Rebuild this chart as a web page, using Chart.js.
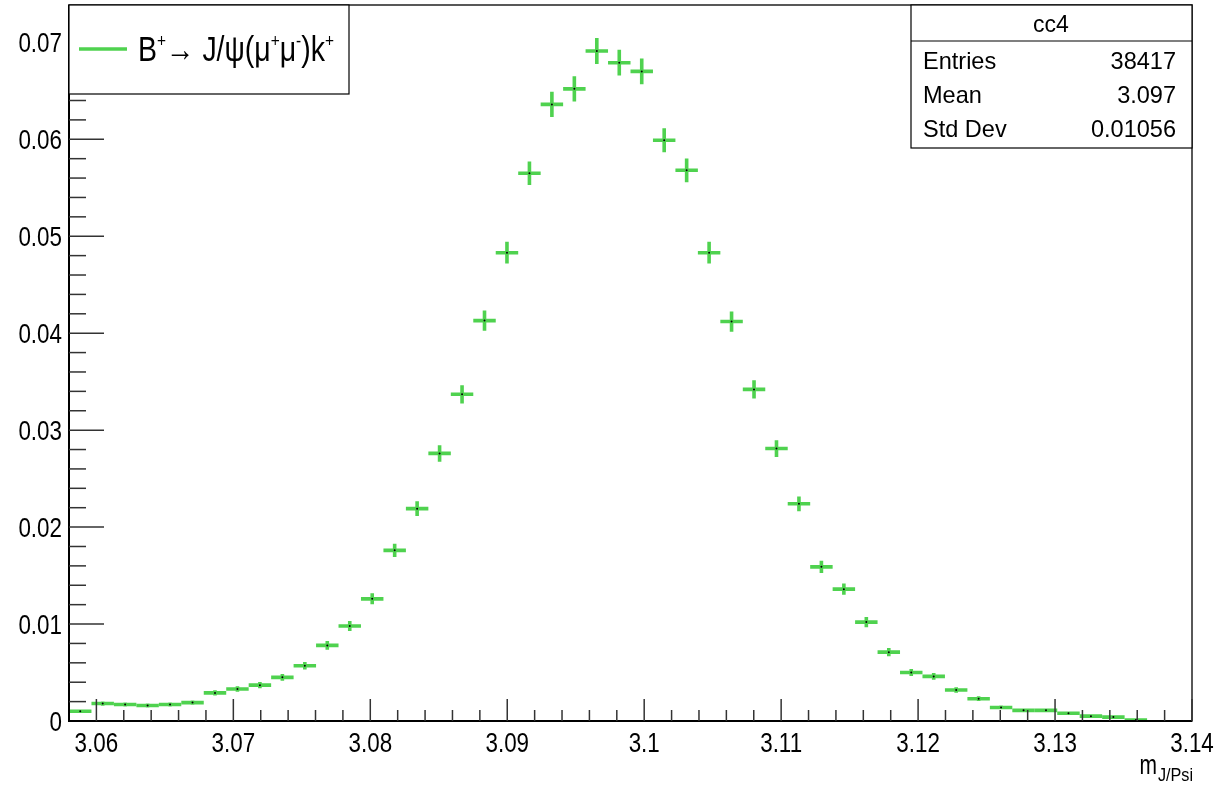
<!DOCTYPE html>
<html>
<head>
<meta charset="utf-8">
<script src="https://cdn.jsdelivr.net/npm/chart.js@4.4.1/dist/chart.umd.min.js"></script>
<style>
html, body { margin: 0; padding: 0; background: #fff; }
#wrap { width: 1230px; height: 786px; }
</style>
</head>
<body>
<div id="wrap"><canvas id="cc4" width="1230" height="786"></canvas></div>
<script>
// histogram cc4: 50 bins from 3.058 to 3.14, only the first 48 are filled
var binCenters = [3.05882, 3.06046, 3.06210, 3.06374, 3.06538, 3.06702, 3.06866, 3.07030,
    3.07194, 3.07358, 3.07522, 3.07686, 3.07850, 3.08014, 3.08178, 3.08342,
    3.08506, 3.08670, 3.08834, 3.08998, 3.09162, 3.09326, 3.09490, 3.09654,
    3.09818, 3.09982, 3.10146, 3.10310, 3.10474, 3.10638, 3.10802, 3.10966,
    3.11130, 3.11294, 3.11458, 3.11622, 3.11786, 3.11950, 3.12114, 3.12278,
    3.12442, 3.12606, 3.12770, 3.12934, 3.13098, 3.13262, 3.13426, 3.13590];
var binContent = [0.0010, 0.0018, 0.0017, 0.0016, 0.0017, 0.0019, 0.0029, 0.0033,
    0.0037, 0.0045, 0.0057, 0.0078, 0.0098, 0.0126, 0.0176, 0.0219,
    0.0276, 0.0337, 0.0413, 0.0483, 0.0565, 0.0636, 0.0652, 0.0691,
    0.0679, 0.0670, 0.0599, 0.0568, 0.0483, 0.0412, 0.0342, 0.0281,
    0.0224, 0.0159, 0.0136, 0.0102, 0.0071, 0.0050, 0.0046, 0.0032,
    0.0023, 0.0014, 0.0011, 0.0011, 0.0008, 0.0005, 0.0004, 0.0001];
var binError = [0.00016, 0.00022, 0.00021, 0.00020, 0.00021, 0.00022, 0.00027, 0.00029,
    0.00031, 0.00034, 0.00039, 0.00045, 0.00051, 0.00057, 0.00068, 0.00076,
    0.00085, 0.00094, 0.00104, 0.00112, 0.00121, 0.00129, 0.00130, 0.00134,
    0.00133, 0.00132, 0.00125, 0.00122, 0.00112, 0.00104, 0.00094, 0.00086,
    0.00076, 0.00064, 0.00059, 0.00052, 0.00043, 0.00036, 0.00035, 0.00029,
    0.00024, 0.00019, 0.00017, 0.00017, 0.00014, 0.00011, 0.00010, 0.00005];
var binWidth = 0.00164;

var xMajor = [3.06, 3.07, 3.08, 3.09, 3.10, 3.11, 3.12, 3.13, 3.14];
var xMajorLabels = ['3.06', '3.07', '3.08', '3.09', '3.1', '3.11', '3.12', '3.13', '3.14'];
var yMajor = [0, 0.01, 0.02, 0.03, 0.04, 0.05, 0.06, 0.07];
var yMajorLabels = ['0', '0.01', '0.02', '0.03', '0.04', '0.05', '0.06', '0.07'];

var statsTitle = 'cc4';
var statsNames = ['Entries', 'Mean', 'Std Dev'];
var statsValues = ['38417', '3.097', '0.01056'];
var axisTitle = 'm';
var axisTitleSub = 'J/Psi';
var legendParts = [
    { t: 'B' }, { t: '+', sup: true },
    { t: '\u2192 J/\u03c8(\u03bc' }, { t: '+', sup: true },
    { t: '\u03bc' }, { t: '-', sup: true },
    { t: ')k' }, { t: '+', sup: true }
];

var GREEN = '#4fd24f';
var FONT = '"Liberation Sans", Arial, Helvetica, sans-serif';

function drawText(ctx, s, x, y, size, align, sx) {
    ctx.save();
    ctx.font = size + 'px ' + FONT;
    ctx.translate(x, y);
    ctx.scale(sx, 1);
    ctx.textAlign = align;
    ctx.textBaseline = 'alphabetic';
    ctx.fillStyle = '#000';
    ctx.fillText(s, 0, 0);
    ctx.restore();
}

var rootStyle = {
    id: 'rootStyle',
    beforeDatasetsDraw: function (chart) {
        var ctx = chart.ctx;
        var xs = chart.scales.x, ys = chart.scales.y;
        ctx.save();
        ctx.strokeStyle = GREEN;
        ctx.lineWidth = 3.6;
        for (var i = 0; i < binCenters.length; i++) {
            var c = binCenters[i], v = binContent[i], e = binError[i];
            var px = xs.getPixelForValue(c);
            var py = ys.getPixelForValue(v);
            ctx.beginPath();
            ctx.moveTo(xs.getPixelForValue(c - binWidth / 2), py);
            ctx.lineTo(xs.getPixelForValue(c + binWidth / 2), py);
            ctx.moveTo(px, ys.getPixelForValue(v + e));
            ctx.lineTo(px, ys.getPixelForValue(Math.max(0, v - e)));
            ctx.stroke();
        }
        ctx.restore();
    },
    afterDraw: function (chart) {
        var ctx = chart.ctx;
        var a = chart.chartArea;
        var xs = chart.scales.x, ys = chart.scales.y;
        ctx.save();

        // frame
        ctx.strokeStyle = '#222';
        ctx.lineWidth = 1.5;
        ctx.strokeRect(a.left, a.top, a.right - a.left, a.bottom - a.top);
        ctx.strokeStyle = '#000';
        ctx.lineWidth = 2;
        ctx.beginPath();
        ctx.moveTo(a.left, a.top);
        ctx.lineTo(a.left, a.bottom);
        ctx.lineTo(a.right, a.bottom);
        ctx.stroke();

        // x ticks, minor every 0.002, drawn inside the frame
        ctx.strokeStyle = '#333';
        ctx.lineWidth = 1.5;
        for (var k = 0; k <= 41; k++) {
            var xv = 3.058 + k * 0.002;
            var px = xs.getPixelForValue(xv);
            if (px < a.left + 1 || px > a.right + 0.5) continue;
            var major = Math.abs(Math.round(xv * 100) - xv * 100) < 1e-6;
            ctx.beginPath();
            ctx.moveTo(px, a.bottom);
            ctx.lineTo(px, a.bottom - (major ? 22 : 11));
            ctx.stroke();
        }
        // y ticks
        for (var j = 0; j <= 36; j++) {
            var yv = j * 0.002;
            var py = ys.getPixelForValue(yv);
            if (py < a.top || j === 0) continue;
            var majorY = j % 5 === 0;
            ctx.beginPath();
            ctx.moveTo(a.left, py);
            ctx.lineTo(a.left + (majorY ? 35 : 17), py);
            ctx.stroke();
        }

        // tick labels
        for (var i = 0; i < xMajor.length; i++) {
            drawText(ctx, xMajorLabels[i], xs.getPixelForValue(xMajor[i]), a.bottom + 31, 28, 'center', 0.8);
        }
        for (var i2 = 0; i2 < yMajor.length; i2++) {
            drawText(ctx, yMajorLabels[i2], a.left - 7, ys.getPixelForValue(yMajor[i2]) + 10, 28, 'right', 0.8);
        }

        // axis title m_{J/Psi}, right aligned at the axis end
        ctx.font = '18px ' + FONT;
        var subW = ctx.measureText(axisTitleSub).width * 0.9;
        drawText(ctx, axisTitleSub, a.right + 1, 781, 18, 'right', 0.9);
        drawText(ctx, axisTitle, a.right + 1 - subW - 1, 774, 28, 'right', 0.75);

        // legend box
        ctx.fillStyle = '#fff';
        ctx.fillRect(69, 5, 280, 89);
        ctx.strokeStyle = '#000';
        ctx.lineWidth = 1.2;
        ctx.strokeRect(69, 5, 280, 89);
        ctx.strokeStyle = GREEN;
        ctx.lineWidth = 3.6;
        ctx.beginPath();
        ctx.moveTo(79, 49);
        ctx.lineTo(127, 49);
        ctx.stroke();
        var mainSize = 35, supSize = 19, natural = 0;
        for (var p = 0; p < legendParts.length; p++) {
            ctx.font = (legendParts[p].sup ? supSize : mainSize) + 'px ' + FONT;
            natural += ctx.measureText(legendParts[p].t).width;
        }
        var lsx = 196 / natural;
        var lx = 138;
        for (var p2 = 0; p2 < legendParts.length; p2++) {
            var part = legendParts[p2];
            var size = part.sup ? supSize : mainSize;
            ctx.font = size + 'px ' + FONT;
            var w = ctx.measureText(part.t).width * lsx;
            drawText(ctx, part.t, lx, part.sup ? 47 : 61, size, 'left', lsx);
            lx += w;
        }

        // stats box
        ctx.fillStyle = '#fff';
        ctx.fillRect(911, 5, 281, 143);
        ctx.strokeStyle = '#000';
        ctx.lineWidth = 1.2;
        ctx.strokeRect(911, 5, 281, 143);
        ctx.beginPath();
        ctx.moveTo(911, 41);
        ctx.lineTo(1192, 41);
        ctx.stroke();
        drawText(ctx, statsTitle, 1051, 32, 23, 'center', 1);
        for (var s = 0; s < statsNames.length; s++) {
            drawText(ctx, statsNames[s], 923, 69 + s * 34, 24, 'left', 0.98);
            drawText(ctx, statsValues[s], 1176, 69 + s * 34, 24, 'right', 0.98);
        }
        ctx.restore();
    }
};

var points = binCenters.map(function (c, i) { return { x: c, y: binContent[i] }; });

new Chart(document.getElementById('cc4').getContext('2d'), {
    type: 'scatter',
    data: {
        datasets: [{
            label: 'cc4',
            data: points,
            pointRadius: 1,
            pointHoverRadius: 1,
            pointBorderWidth: 0,
            pointBackgroundColor: '#000',
            borderColor: '#000',
            showLine: false
        }]
    },
    options: {
        responsive: false,
        animation: false,
        events: [],
        layout: { padding: { left: 69, right: 38, top: 5, bottom: 65 } },
        plugins: { legend: { display: false }, tooltip: { enabled: false } },
        scales: {
            x: { type: 'linear', min: 3.058, max: 3.14, display: false },
            y: { type: 'linear', min: 0, max: 0.07385, display: false }
        }
    },
    plugins: [rootStyle]
});
</script>
</body>
</html>
